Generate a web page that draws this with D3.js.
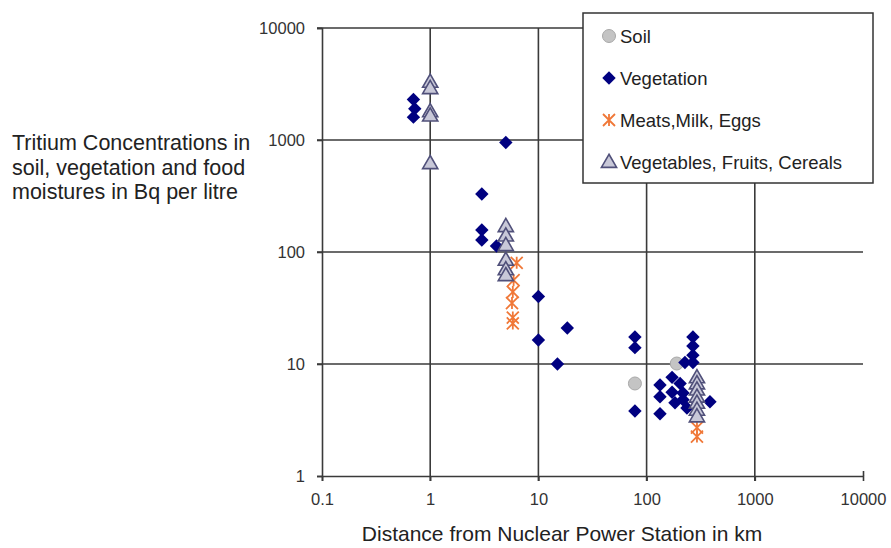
<!DOCTYPE html>
<html>
<head>
<meta charset="utf-8">
<script src="https://cdn.jsdelivr.net/npm/d3@7"></script>
<style>
  body { margin: 0; background: #fff; }
  text { font-family: "Liberation Sans", Arial, sans-serif; }
</style>
</head>
<body>
<div id="chart"></div>
<script>
// Values (distance km, concentration Bq/l)
let soil = [[78, 6.7], [190, 10.1]];
let vegetation = [
  [0.7, 2300], [0.72, 1900], [0.7, 1600],
  [3, 330], [3, 157], [3, 128], [4.1, 113], [5, 950],
  [10, 40], [10, 16.4], [15, 10], [18.5, 21],
  [78, 17.4], [78, 14], [78, 3.8],
  [268, 17.4], [268, 14.5], [268, 12], [268, 10.3], [226, 10.3],
  [172, 7.6], [133, 6.5], [133, 5.1], [133, 3.6], [204, 6.7],
  [172, 5.6], [217, 5.5], [217, 4.8], [183, 4.5], [385, 4.6], [236, 4.05]
];
let meats = [
  [6.3, 80], [5.9, 56], [5.8, 44], [5.7, 35], [5.8, 26], [5.8, 23],
  [292, 2.7], [292, 2.25]
];
let vegetables = [
  [1, 3300], [1, 2900], [1, 1800], [1, 1650], [1, 620],
  [5, 170], [5, 140], [5, 115], [5, 85], [5, 70], [5, 62],
  [292, 7.6], [292, 6.7], [292, 5.9], [292, 5.1], [292, 4.5], [292, 3.9], [292, 3.4]
];
let xTicks = [0.1, 1, 10, 100, 1000, 10000];
let yTicks = [1, 10, 100, 1000, 10000];
let legendNames = ['Soil', 'Vegetation', 'Meats,Milk, Eggs', 'Vegetables, Fruits, Cereals'];

let width = 891, height = 548;
let svg = d3.select('#chart').append('svg')
  .attr('width', width)
  .attr('height', height);

let x = d3.scaleLog().domain([0.1, 10000]).range([322, 863]);
let y = d3.scaleLog().domain([1, 10000]).range([476, 28]);

let gridColor = '#3a3a3a';

// gridlines
svg.append('g').selectAll('line')
  .data(xTicks.slice(1, -1))
  .enter().append('line')
  .attr('x1', d => x(d)).attr('x2', d => x(d))
  .attr('y1', y(10000)).attr('y2', y(1) + 5)
  .attr('stroke', gridColor).attr('stroke-width', 1.6);
svg.append('g').selectAll('line')
  .data(yTicks.slice(1))
  .enter().append('line')
  .attr('x1', x(0.1) - 5).attr('x2', x(10000))
  .attr('y1', d => y(d)).attr('y2', d => y(d))
  .attr('stroke', gridColor).attr('stroke-width', 1.6);

// axes
let xAxis = svg.append('g')
  .attr('transform', 'translate(0,' + y(1) + ')')
  .call(d3.axisBottom(x).tickValues(xTicks).tickFormat(d3.format('~g')).tickSize(5).tickPadding(12));
let yAxis = svg.append('g')
  .attr('transform', 'translate(' + x(0.1) + ',0)')
  .call(d3.axisLeft(y).tickValues(yTicks).tickFormat(d3.format('d')).tickSize(5).tickPadding(12));
[xAxis, yAxis].forEach(function(a) {
  a.select('.domain').attr('stroke', gridColor).attr('stroke-width', 1.6);
  a.selectAll('.tick line').attr('stroke', gridColor).attr('stroke-width', 1.6);
  a.selectAll('.tick text')
    .style('font-size', '16.5px')
    .attr('fill', '#333')
    .style('font-family', '"Liberation Sans", Arial, sans-serif');
});
xAxis.selectAll('.tick').filter(d => d == 10000).select('line').attr('y1', -5).attr('y2', 0);

// axis titles
svg.append('text')
  .attr('x', 562).attr('y', 541)
  .attr('text-anchor', 'middle')
  .style('font-size', '21px')
  .attr('fill', '#222')
  .text('Distance from Nuclear Power Station in km');

let yTitle = svg.append('text')
  .attr('x', 12).attr('y', 150)
  .style('font-size', '21.5px')
  .attr('fill', '#222');
['Tritium Concentrations in', 'soil, vegetation and food', 'moistures in Bq per litre'].forEach(function(t, i) {
  yTitle.append('tspan').attr('x', 12).attr('dy', i ? 24.5 : 0).text(t);
});

// marker drawers
let diamond = d3.symbol().type(d3.symbolDiamond2).size(115);
let triangle = d3.symbol().type(d3.symbolTriangle).size(100);

function drawSoil(g, cx, cy) {
  g.append('circle').attr('cx', cx).attr('cy', cy).attr('r', 6.5)
    .attr('fill', '#c4c4c4').attr('stroke', '#a8a8a8').attr('stroke-width', 1);
}
function drawVeg(g, cx, cy) {
  g.append('path').attr('d', diamond)
    .attr('transform', 'translate(' + cx + ',' + cy + ')')
    .attr('fill', '#000080');
}
function drawMeat(g, cx, cy) {
  let s = 6;
  let p = 'M' + (-s) + ',' + (-s) + 'L' + s + ',' + s +
    'M' + (-s) + ',' + s + 'L' + s + ',' + (-s) +
    'M0,' + (-s) + 'L0,' + s;
  g.append('path').attr('d', p)
    .attr('transform', 'translate(' + cx + ',' + cy + ')')
    .attr('stroke', '#f07838').attr('stroke-width', 1.8).attr('fill', 'none');
}
function drawVegetable(g, cx, cy) {
  g.append('path').attr('d', triangle)
    .attr('transform', 'translate(' + cx + ',' + (cy + 1) + ')')
    .attr('fill', '#c8c8d8').attr('stroke', '#50507a').attr('stroke-width', 1.6)
    .attr('stroke-linejoin', 'miter');
}

let marks = svg.append('g');
soil.forEach(d => drawSoil(marks, x(d[0]), y(d[1])));
vegetation.forEach(d => drawVeg(marks, x(d[0]), y(d[1])));
meats.forEach(d => drawMeat(marks, x(d[0]), y(d[1])));
vegetables.forEach(d => drawVegetable(marks, x(d[0]), y(d[1])));

// legend
let legend = svg.append('g');
legend.append('rect')
  .attr('x', 583).attr('y', 13).attr('width', 290).attr('height', 170)
  .attr('fill', '#fff').attr('stroke', '#333').attr('stroke-width', 1.5);
let drawers = [drawSoil, drawVeg, drawMeat, drawVegetable];
legendNames.forEach(function(name, i) {
  let ly = 36 + i * 42;
  drawers[i](legend, 609, ly);
  legend.append('text')
    .attr('x', 620).attr('y', ly)
    .attr('dominant-baseline', 'central')
    .style('font-size', '18.5px')
    .attr('fill', '#222')
    .text(name);
});
</script>
</body>
</html>
